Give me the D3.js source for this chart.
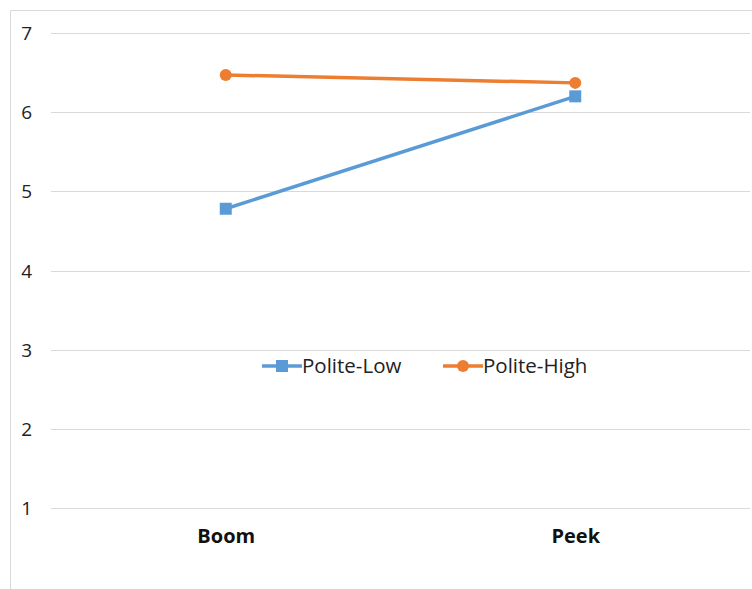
<!DOCTYPE html>
<html>
<head>
<meta charset="utf-8">
<script src="https://cdn.jsdelivr.net/npm/d3@7"></script>
<style>
  body { margin: 0; background: #fff; }
  text { font-family: "Open Sans", Lato, sans-serif; }
</style>
</head>
<body>
<div class="grafico"></div>
<script>
// dati
var categorie = ["Boom", "Peek"];
var politeLow = [4.78, 6.20];
var politeHigh = [6.47, 6.37];
var tickY = [1, 2, 3, 4, 5, 6, 7];

var w = 752,
    h = 589;

var svg = d3.select(".grafico")
  .append("svg")
  .attr("width", w)
  .attr("height", h);

// cornice del grafico
svg.append("path")
  .attr("d", "M 10.5 589 L 10.5 10.5 L 752 10.5")
  .attr("fill", "none")
  .attr("stroke", "#d9d9d9");

var x = d3.scalePoint()
  .domain(categorie)
  .range([51, 750])
  .padding(0.5);

var y = d3.scaleLinear()
  .domain([1, 7])
  .range([508, 33]);

// griglia
svg.append("g")
  .selectAll("line")
  .data(tickY)
  .enter()
  .append("line")
  .attr("x1", 51)
  .attr("x2", 750)
  .attr("y1", function (d) { return Math.round(y(d)) + 0.5; })
  .attr("y2", function (d) { return Math.round(y(d)) + 0.5; })
  .attr("stroke", "#d9d9d9")
  .attr("stroke-width", 1);

// asse y
var assey = svg.append("g")
  .attr("transform", "translate(32,0)")
  .call(d3.axisLeft(y).tickValues(tickY).tickSize(0).tickPadding(0).tickFormat(d3.format("d")));
assey.select(".domain").remove();
assey.selectAll("text")
  .attr("font-size", 19)
  .attr("fill", "#222")
  .attr("dy", "0.35em");

// asse x
var assex = svg.append("g")
  .attr("transform", "translate(0,508)")
  .call(d3.axisBottom(x).tickSize(0).tickPadding(21));
assex.select(".domain").remove();
assex.selectAll("text")
  .attr("font-size", 20)
  .attr("font-weight", "bold")
  .attr("fill", "#111");

var serie = [
  { nome: "Polite-Low", valori: politeLow, colore: "#5b9bd5", forma: "quadrato" },
  { nome: "Polite-High", valori: politeHigh, colore: "#ed7d31", forma: "cerchio" }
];

var linea = d3.line()
  .x(function (d, i) { return x(categorie[i]); })
  .y(function (d) { return y(d); });

function disegnaMarker(g, forma, cx, cy, colore) {
  if (forma == "quadrato") {
    g.append("rect")
      .attr("x", cx - 6)
      .attr("y", cy - 6)
      .attr("width", 12)
      .attr("height", 12)
      .attr("fill", colore);
  } else {
    g.append("circle")
      .attr("cx", cx)
      .attr("cy", cy)
      .attr("r", 6)
      .attr("fill", colore);
  }
}

serie.forEach(function (s) {
  var g = svg.append("g");
  g.append("path")
    .attr("d", linea(s.valori))
    .attr("fill", "none")
    .attr("stroke", s.colore)
    .attr("stroke-width", 3.5);
  s.valori.forEach(function (v, i) {
    disegnaMarker(g, s.forma, x(categorie[i]), y(v), s.colore);
  });
});

// legenda
var legX = [262, 443];
serie.forEach(function (s, i) {
  var g = svg.append("g").attr("transform", "translate(" + legX[i] + ",366)");
  g.append("line")
    .attr("x1", 0)
    .attr("x2", 40)
    .attr("y1", 0)
    .attr("y2", 0)
    .attr("stroke", s.colore)
    .attr("stroke-width", 3.5);
  disegnaMarker(g, s.forma, 20, 0, s.colore);
  g.append("text")
    .attr("x", 40)
    .attr("y", 0)
    .attr("dy", "0.35em")
    .attr("font-size", 20.5)
    .attr("fill", "#222")
    .text(s.nome);
});
</script>
</body>
</html>
